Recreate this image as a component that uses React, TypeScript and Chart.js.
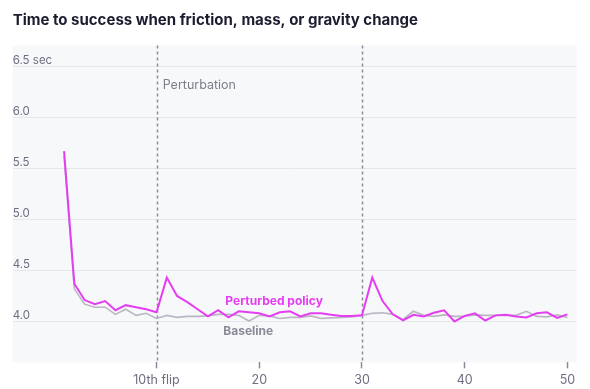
import React, { useEffect, useRef } from "react";
import { Chart, registerables } from "chart.js";

Chart.register(...registerables);

const TITLE = "Time to success when friction, mass, or gravity change";

const FLIPS = [
  1, 2, 3, 4, 5, 6, 7, 8, 9, 10, 11, 12, 13, 14, 15, 16, 17, 18, 19, 20, 21, 22, 23, 24, 25,
  26, 27, 28, 29, 30, 31, 32, 33, 34, 35, 36, 37, 38, 39, 40, 41, 42, 43, 44, 45, 46, 47, 48, 49, 50,
];

const PERTURBED = [
  5.67, 4.37, 4.21, 4.17, 4.2, 4.11, 4.16, 4.14, 4.12, 4.09,
  4.43, 4.25, 4.19, 4.12, 4.05, 4.11, 4.04, 4.1, 4.09, 4.08,
  4.05, 4.09, 4.1, 4.05, 4.08, 4.08, 4.065, 4.055, 4.055, 4.06,
  4.43, 4.2, 4.07, 4.01, 4.065, 4.05, 4.085, 4.11, 4.0, 4.055,
  4.08, 4.01, 4.06, 4.065, 4.05, 4.04, 4.08, 4.09, 4.035, 4.07,
];

const BASELINE = [
  5.62, 4.32, 4.17, 4.14, 4.14, 4.07, 4.12, 4.06, 4.08, 4.03,
  4.06, 4.04, 4.05, 4.05, 4.055, 4.07, 4.07, 4.06, 4.005, 4.06,
  4.055, 4.03, 4.04, 4.04, 4.055, 4.03, 4.035, 4.04, 4.045, 4.06,
  4.08, 4.085, 4.07, 4.02, 4.1, 4.06, 4.05, 4.065, 4.05, 4.05,
  4.065, 4.06, 4.06, 4.06, 4.06, 4.1, 4.05, 4.045, 4.065, 4.04,
];

const Y_TICKS = [4.0, 4.5, 5.0, 5.5, 6.0, 6.5];
const X_TICKS = [10, 20, 30, 40, 50];
const X_TICK_LABELS = ["10th flip", "20", "30", "40", "50"];
const PERTURBATION_FLIPS = [10, 30];

const MAGENTA = "#e53ef2";
const GRAY_LINE = "#bab7c3";
const TEXT_GRAY = "#6e6e80";
const FONT = "Inter, 'Noto Sans', sans-serif";

export default function App() {
  const ref = useRef<HTMLCanvasElement | null>(null);

  useEffect(() => {
    if (!ref.current) return;

    const bgPlugin = {
      id: "bg",
      beforeDraw(chart: any) {
        const { ctx, chartArea } = chart;
        ctx.save();
        ctx.fillStyle = "#f6f8fa";
        ctx.fillRect(chartArea.left, chartArea.top, chartArea.right - chartArea.left, chartArea.bottom - chartArea.top);
        ctx.restore();
      },
      beforeDatasetsDraw(chart: any) {
        const { ctx, chartArea, scales } = chart;
        ctx.save();
        ctx.strokeStyle = "#8c8d9b";
        ctx.lineWidth = 1.5;
        ctx.setLineDash([3, 3]);
        PERTURBATION_FLIPS.forEach((f) => {
          const x = Math.round(scales.x.getPixelForValue(f)) + 0.5;
          ctx.beginPath();
          ctx.moveTo(x, chartArea.top);
          ctx.lineTo(x, chartArea.bottom);
          ctx.stroke();
        });
        ctx.restore();
      },
      afterDatasetsDraw(chart: any) {
        const { ctx, scales } = chart;
        ctx.save();
        ctx.textBaseline = "middle";
        ctx.textAlign = "left";
        ctx.font = `400 12.5px ${FONT}`;
        ctx.fillStyle = "#7d7e8c";
        ctx.fillText("Perturbation", scales.x.getPixelForValue(10.6), scales.y.getPixelForValue(6.32));
        ctx.font = `700 12px ${FONT}`;
        ctx.fillStyle = MAGENTA;
        ctx.fillText("Perturbed policy", scales.x.getPixelForValue(16.7), scales.y.getPixelForValue(4.2));
        ctx.fillStyle = "#8a8a99";
        ctx.fillText("Baseline", scales.x.getPixelForValue(16.5), scales.y.getPixelForValue(3.905));
        ctx.restore();
      },
    };

    const chart = new Chart(ref.current, {
      type: "line",
      data: {
        datasets: [
          {
            label: "Perturbed policy",
            data: FLIPS.map((x, i) => ({ x, y: PERTURBED[i] })),
            borderColor: MAGENTA,
            borderWidth: 2,
            pointRadius: 0,
            tension: 0,
          },
          {
            label: "Baseline",
            data: FLIPS.map((x, i) => ({ x, y: BASELINE[i] })),
            borderColor: GRAY_LINE,
            borderWidth: 1.6,
            pointRadius: 0,
            tension: 0,
          },
        ],
      },
      options: {
        animation: false,
        responsive: false,
        layout: { padding: { left: 12.7, right: 13.3, top: 0, bottom: 0 } },
        plugins: {
          legend: { display: false },
          tooltip: { enabled: false },
          title: {
            display: true,
            text: TITLE,
            align: "start",
            color: "#1c1c30",
            font: { family: FONT, size: 15, weight: "700", lineHeight: 1.2 },
            padding: { top: 11, bottom: 16.5 },
          },
        },
        scales: {
          x: {
            type: "linear",
            min: -4,
            max: 50.9,
            afterBuildTicks: (s: any) => {
              s.ticks = X_TICKS.map((v) => ({ value: v }));
            },
            afterFit: (s: any) => {
              s.height = 26.7;
            },
            ticks: {
              autoSkip: false,
              maxRotation: 0,
              padding: 4,
              color: TEXT_GRAY,
              font: { family: FONT, size: 12.5 },
              callback: (v: any) => {
                const i = X_TICKS.indexOf(Number(v));
                return i >= 0 ? X_TICK_LABELS[i] : "";
              },
            },
            grid: {
              display: true,
              drawOnChartArea: false,
              drawTicks: true,
              tickLength: 6,
              tickColor: "#8c8d9b",
              tickWidth: 1.5,
            },
            border: { display: false },
          },
          y: {
            type: "linear",
            min: 3.6,
            max: 6.705,
            afterBuildTicks: (s: any) => {
              s.ticks = Y_TICKS.map((v) => ({ value: v }));
            },
            afterFit: (s: any) => {
              s.width = 0;
            },
            ticks: {
              mirror: true,
              padding: 0,
              labelOffset: -6,
              color: TEXT_GRAY,
              font: { family: FONT, size: 11.5 },
              callback: (v: any) => {
                const n = Number(v);
                return n === 6.5 ? "6.5 sec" : n.toFixed(1);
              },
            },
            grid: {
              color: "#e4e7ec",
              lineWidth: 1,
              drawTicks: false,
            },
            border: { display: false },
          },
        },
      },
      plugins: [bgPlugin],
    } as any);

    return () => chart.destroy();
  }, []);

  return (
    <div style={{ position: "absolute", left: 0, top: 0, width: 590, height: 389, background: "#ffffff" }}>
      <canvas ref={ref} width={590} height={389} />
    </div>
  );
}
